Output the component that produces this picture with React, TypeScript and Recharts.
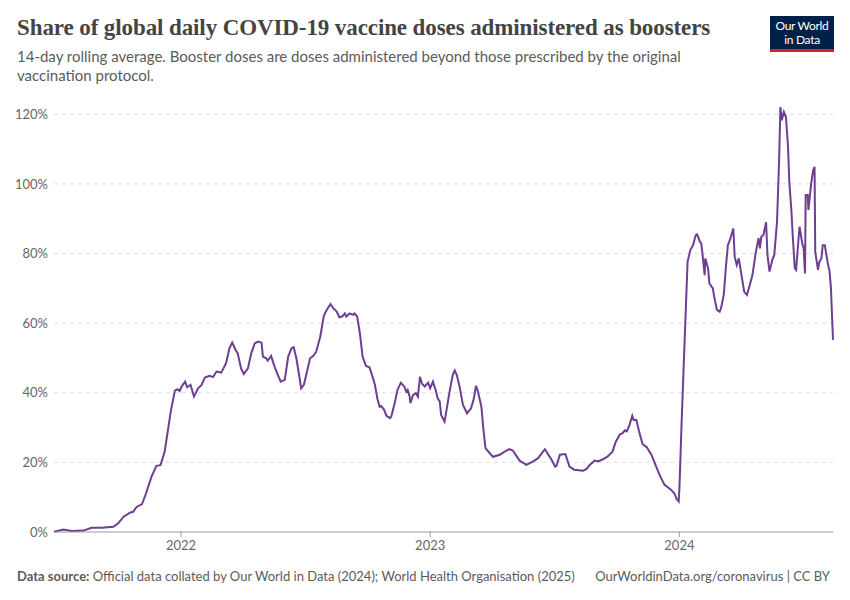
import React from 'react';
import { LineChart, Line, XAxis, YAxis, CartesianGrid } from 'recharts';

// Share of daily doses that were boosters, 14-day rolling average (%)
const dates = [
  '2021-06-29', '2021-07-13', '2021-07-25', '2021-08-11', '2021-08-23', '2021-09-07', '2021-09-24',
  '2021-10-01', '2021-10-09', '2021-10-19', '2021-10-23', '2021-10-28', '2021-11-05', '2021-11-11',
  '2021-11-19', '2021-11-26', '2021-12-02', '2021-12-08', '2021-12-13', '2021-12-17', '2021-12-23',
  '2021-12-27', '2021-12-30', '2022-01-02', '2022-01-07', '2022-01-10', '2022-01-15', '2022-01-20',
  '2022-01-26', '2022-01-31', '2022-02-05', '2022-02-12', '2022-02-17', '2022-02-22', '2022-03-01',
  '2022-03-08', '2022-03-13', '2022-03-17', '2022-03-22', '2022-03-25', '2022-03-30', '2022-04-03',
  '2022-04-09', '2022-04-14', '2022-04-19', '2022-04-24', '2022-04-29', '2022-05-01', '2022-05-06',
  '2022-05-08', '2022-05-13', '2022-05-18', '2022-05-23', '2022-05-27', '2022-06-02', '2022-06-07',
  '2022-06-12', '2022-06-15', '2022-06-19', '2022-06-23', '2022-06-26', '2022-06-30', '2022-07-04',
  '2022-07-09', '2022-07-14', '2022-07-18', '2022-07-24', '2022-07-29', '2022-08-01', '2022-08-04',
  '2022-08-08', '2022-08-12', '2022-08-17', '2022-08-21', '2022-08-25', '2022-08-29', '2022-08-31',
  '2022-09-05', '2022-09-10', '2022-09-12', '2022-09-16', '2022-09-20', '2022-09-24', '2022-09-29',
  '2022-10-04', '2022-10-07', '2022-10-12', '2022-10-16', '2022-10-19', '2022-10-21', '2022-10-25',
  '2022-10-29', '2022-11-03', '2022-11-05', '2022-11-10', '2022-11-14', '2022-11-19', '2022-11-24',
  '2022-11-27', '2022-11-29', '2022-12-02', '2022-12-03', '2022-12-07', '2022-12-11', '2022-12-14',
  '2022-12-17', '2022-12-20', '2022-12-24', '2022-12-29', '2023-01-01', '2023-01-05', '2023-01-09',
  '2023-01-12', '2023-01-15', '2023-01-17', '2023-01-22', '2023-01-25', '2023-01-29', '2023-02-03',
  '2023-02-06', '2023-02-09', '2023-02-13', '2023-02-18', '2023-02-24', '2023-03-02', '2023-03-06',
  '2023-03-09', '2023-03-12', '2023-03-17', '2023-03-20', '2023-03-23', '2023-03-29', '2023-04-03',
  '2023-04-13', '2023-04-20', '2023-04-27', '2023-05-02', '2023-05-12', '2023-05-22', '2023-06-01',
  '2023-06-08', '2023-06-18', '2023-06-28', '2023-07-03', '2023-07-05', '2023-07-10', '2023-07-18',
  '2023-07-24', '2023-07-31', '2023-08-13', '2023-08-18', '2023-08-23', '2023-08-30', '2023-09-04',
  '2023-09-11', '2023-09-18', '2023-09-25', '2023-09-30', '2023-10-06', '2023-10-10', '2023-10-13',
  '2023-10-16', '2023-10-20', '2023-10-24', '2023-10-26', '2023-10-30', '2023-11-03', '2023-11-08',
  '2023-11-11', '2023-11-14', '2023-11-21', '2023-11-28', '2023-12-03', '2023-12-10', '2023-12-20',
  '2023-12-25', '2023-12-28', '2023-12-31', '2024-01-01', '2024-01-02', '2024-01-04', '2024-01-08',
  '2024-01-13', '2024-01-17', '2024-01-21', '2024-01-25', '2024-01-27', '2024-01-31', '2024-02-02',
  '2024-02-04', '2024-02-07', '2024-02-08', '2024-02-12', '2024-02-14', '2024-02-19', '2024-02-21',
  '2024-02-25', '2024-02-29', '2024-03-02', '2024-03-06', '2024-03-09', '2024-03-12', '2024-03-15',
  '2024-03-20', '2024-03-22', '2024-03-25', '2024-03-28', '2024-04-01', '2024-04-05', '2024-04-09',
  '2024-04-13', '2024-04-17', '2024-04-22', '2024-04-26', '2024-04-28', '2024-04-30', '2024-05-03',
  '2024-05-07', '2024-05-09', '2024-05-12', '2024-05-16', '2024-05-19', '2024-05-23', '2024-05-26',
  '2024-05-28', '2024-05-30', '2024-06-02', '2024-06-05', '2024-06-08', '2024-06-10', '2024-06-13',
  '2024-06-15', '2024-06-18', '2024-06-20', '2024-06-22', '2024-06-25', '2024-06-29', '2024-07-01',
  '2024-07-03', '2024-07-04', '2024-07-07', '2024-07-08', '2024-07-12', '2024-07-15', '2024-07-17',
  '2024-07-18', '2024-07-22', '2024-07-24', '2024-07-27', '2024-07-29', '2024-08-01', '2024-08-05',
  '2024-08-08', '2024-08-10', '2024-08-13',
];

const boosterShare = [
  0.1, 0.7, 0.3, 0.4, 1.2, 1.2, 1.5,
  2.5, 4.4, 5.6, 5.8, 7.2, 8.0, 11.2,
  16.0, 19.0, 19.2, 23.0, 29.4, 34.6, 40.6,
  41.0, 40.5, 41.8, 43.2, 41.6, 42.3, 38.9,
  41.3, 42.2, 44.4, 44.9, 44.5, 46.1, 45.8,
  48.5, 52.8, 54.4, 52.3, 51.4, 47.0, 45.4,
  47.0, 51.4, 54.2, 54.7, 54.4, 50.4, 49.9,
  49.2, 50.6, 47.5, 45.1, 43.2, 43.7, 50.4,
  52.8, 53.1, 49.9, 45.1, 41.3, 42.3, 45.6,
  49.9, 50.6, 51.8, 56.1, 61.9, 63.3, 64.3,
  65.5, 64.3, 63.3, 61.7, 61.9, 62.8, 61.9,
  62.8, 62.4, 62.8, 61.9, 57.1, 50.4, 47.7,
  47.3, 45.6, 42.3, 38.0, 36.0, 36.2, 35.3,
  33.4, 32.7, 33.2, 37.0, 40.8, 42.9, 41.8,
  40.3, 40.8, 38.9, 37.0, 39.4, 39.9, 38.9,
  44.6, 42.6, 41.8, 42.9, 41.3, 43.2, 40.8,
  38.4, 37.5, 33.6, 31.7, 35.1, 39.9, 45.1,
  46.4, 45.1, 41.8, 36.5, 34.1, 35.6, 38.4,
  42.0, 40.3, 36.0, 29.4, 24.1, 22.7, 21.6,
  22.2, 23.1, 23.8, 23.4, 20.5, 19.3, 20.3,
  21.2, 23.8, 20.7, 18.8, 19.0, 22.2, 22.4,
  18.8, 17.9, 17.6, 18.1, 19.3, 20.5, 20.3,
  20.9, 21.7, 23.1, 26.0, 28.1, 28.4, 29.2,
  28.9, 30.8, 33.4, 32.2, 32.2, 28.9, 25.3,
  24.8, 24.4, 22.2, 18.8, 16.4, 13.6, 12.1,
  11.0, 9.5, 8.8, 12.5, 17.9, 30.0, 51.4,
  77.6, 81.0, 82.4, 85.3, 85.5, 83.4, 82.9,
  79.6, 73.8, 78.6, 75.8, 71.4, 70.0, 67.6,
  63.8, 63.3, 64.3, 68.1, 75.8, 82.4, 83.9,
  87.2, 79.1, 76.7, 78.6, 73.8, 69.0, 68.1,
  70.9, 73.8, 80.5, 84.4, 81.5, 84.8, 85.3,
  89.0, 79.6, 74.8, 78.1, 79.6, 89.1, 106.3,
  122.1, 118.3, 120.7, 119.3, 111.1, 100.6, 92.5,
  85.3, 75.8, 75.3, 80.5, 87.7, 82.9, 81.5,
  74.3, 96.8, 96.8, 92.5, 100.1, 104.0, 104.9,
  80.5, 75.3, 77.6, 78.6, 82.4, 82.4, 77.6,
  74.8, 70.0, 55.2,
];

const yearTicks = ['2022-01-01', '2023-01-01', '2024-01-01'];
const percentTicks = [0, 20, 40, 60, 80, 100, 120];

const data = dates.map((d, i) => ({ t: Date.parse(d), share: boosterShare[i] }));
const xTicks = yearTicks.map((d) => Date.parse(d));

const FONT = 'Lato, "Noto Sans", sans-serif';
const GREY = '#5b5b5b';

export default function App() {
  return (
    <div style={{ position: 'absolute', left: 0, top: 0, width: 850, height: 600, background: '#fff', fontFamily: FONT }}>
      <div style={{ position: 'absolute', left: 17, top: 15, fontFamily: '"Liberation Serif", serif', fontWeight: 700, fontSize: 23, color: '#444', letterSpacing: -0.1, whiteSpace: 'nowrap' }}>
        Share of global daily COVID-19 vaccine doses administered as boosters
      </div>
      <div style={{ position: 'absolute', left: 17, top: 47, width: 700, fontSize: 15, lineHeight: '19px', color: GREY }}>
        14-day rolling average. Booster doses are doses administered beyond those prescribed by the original vaccination protocol.
      </div>
      <div style={{ position: 'absolute', left: 770, top: 16, width: 64, height: 36, background: '#002147', color: '#fff', fontSize: 12, lineHeight: '14px', textAlign: 'center', paddingTop: 3, boxSizing: 'border-box', borderBottom: '3px solid #ce261e', letterSpacing: -0.3 }}>
        Our World<br />in Data
      </div>

      <div style={{ position: 'absolute', left: 0, top: 0 }}>
        <LineChart width={850} height={600} data={data} margin={{ top: 107, right: 17, bottom: 38, left: 0 }}>
          <CartesianGrid vertical={false} stroke="#dddddd" strokeDasharray="4 4" horizontalValues={[20, 40, 60, 80, 100, 120]} />
          <XAxis
            dataKey="t"
            type="number"
            scale="time"
            domain={['dataMin', 'dataMax']}
            ticks={xTicks}
            tickFormatter={(v) => String(new Date(v).getUTCFullYear())}
            height={30}
            stroke="#999"
            tickSize={5}
            tickMargin={4}
            tick={{ fill: '#666', fontSize: 13, fontFamily: FONT }}
          />
          <YAxis
            domain={[0, 120]}
            ticks={percentTicks}
            tickFormatter={(v) => `${v}%`}
            width={54}
            axisLine={false}
            tickLine={false}
            tickSize={0}
            tickMargin={6}
            tick={{ fill: '#666', fontSize: 13, fontFamily: FONT }}
          />
          <Line
            type="linear"
            dataKey="share"
            stroke="#6d3e91"
            strokeWidth={2}
            dot={false}
            isAnimationActive={false}
          />
        </LineChart>
      </div>

      <div style={{ position: 'absolute', left: 17, top: 568, fontSize: 13, color: GREY, whiteSpace: 'nowrap' }}>
        <b>Data source:</b> Official data collated by Our World in Data (2024); World Health Organisation (2025)
      </div>
      <div style={{ position: 'absolute', right: 20, top: 568, fontSize: 13, color: GREY, whiteSpace: 'nowrap' }}>
        OurWorldinData.org/coronavirus | CC BY
      </div>
    </div>
  );
}
